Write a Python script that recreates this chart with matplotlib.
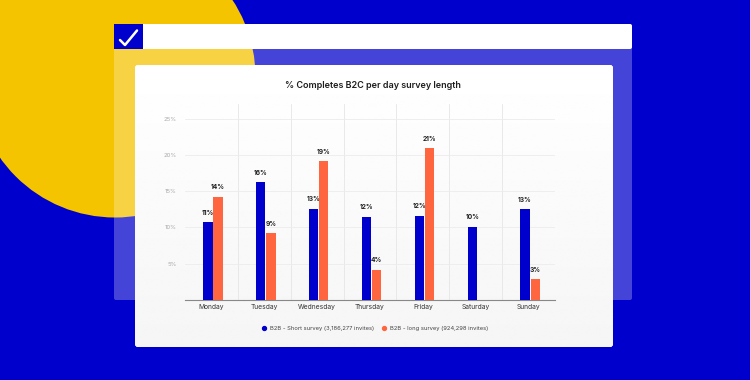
import matplotlib
matplotlib.use("Agg")
import matplotlib.pyplot as plt
import numpy as np
from matplotlib.patches import Circle, FancyBboxPatch, Rectangle
from matplotlib.lines import Line2D

days = ["Monday", "Tuesday", "Wednesday", "Thursday", "Friday", "Saturday", "Sunday"]
short_vals = [10.7, 16.2, 12.6, 11.5, 11.6, 10.1, 12.5]
long_vals = [14.2, 9.2, 19.1, 4.2, 20.9, 0.0, 2.85]
short_labels = ["11%", "16%", "13%", "12%", "12%", "10%", "13%"]
long_labels = ["14%", "9%", "19%", "4%", "21%", "", "3%"]
y_ticks = [5, 10, 15, 20, 25]
y_tick_labels = ["5%", "10%", "15%", "20%", "25%"]
title = "% Completes B2C per day survey length"
legend_short = "B2B - Short survey (3,186,277 invites)"
legend_long = "B2B - long survey (924,298 invites)"

BLUE = "#0000CC"
ORANGE = "#FF6640"
YELLOW = "#F5C400"

plt.rcParams['font.family'] = ['Inter', 'DejaVu Sans']

W, H = 750, 380
fig = plt.figure(figsize=(7.5, 3.8), dpi=100)
bg = fig.add_axes([0, 0, 1, 1])
bg.set_xlim(0, W)
bg.set_ylim(H, 0)
bg.axis("off")
bg.add_patch(Rectangle((0, 0), W, H, facecolor=BLUE, edgecolor="none", zorder=0))
bg.add_patch(Circle((115, 77), 140.5, facecolor=YELLOW, edgecolor="none", zorder=1))

# browser window
bg.add_patch(FancyBboxPatch((114, 24), 518, 276, boxstyle="round,pad=0,rounding_size=2",
                            facecolor="white", alpha=0.27, edgecolor="none", zorder=2))
bg.add_patch(FancyBboxPatch((114, 24), 518, 25, boxstyle="round,pad=0,rounding_size=2",
                            facecolor="white", edgecolor="none", zorder=3))
bg.add_patch(Rectangle((114, 24), 29, 25, facecolor=BLUE, edgecolor="none", zorder=4))
bg.add_line(Line2D([120, 125, 137], [40, 45, 30.5], color="white", lw=1.8,
                   solid_capstyle="round", solid_joinstyle="round", zorder=5))

# card
card = FancyBboxPatch((135, 65), 478, 282, boxstyle="round,pad=0,rounding_size=3",
                      facecolor="white", edgecolor="none", zorder=6)
bg.add_patch(card)
grad = np.linspace(1.0, 0.962, 256).reshape(-1, 1)
im = bg.imshow(grad, cmap="gray", vmin=0, vmax=1, extent=(135, 613, 347, 65),
               aspect="auto", zorder=7, interpolation="bilinear")
im.set_clip_path(card)
bg.set_xlim(0, W)
bg.set_ylim(H, 0)

bg.text(373, 86, title, ha="center", va="center", fontsize=6.5, fontweight="semibold",
        color="#1E1E1E", zorder=10)

# legend
bg.scatter([264], [328], s=8, color=BLUE, zorder=10)
bg.text(270, 328.3, legend_short, ha="left", va="center", fontsize=4.2, color="#444444", zorder=10)
bg.scatter([384], [328], s=8, color=ORANGE, zorder=10)
bg.text(390, 328.3, legend_long, ha="left", va="center", fontsize=4.2, color="#444444", zorder=10)

# chart
x0, x1, ytop, ybot = 185, 555, 104, 300
ax = fig.add_axes([x0 / W, (H - ybot) / H, (x1 - x0) / W, (ybot - ytop) / H])
ax.set_zorder(20)
ax.patch.set_alpha(0)
n = len(days)
x = np.arange(n)
bw = 0.176
gap = 0.015
ax.bar(x + 0.03 - bw / 2 - gap / 2, short_vals, width=bw, color=BLUE, zorder=3)
ax.bar(x + 0.03 + bw / 2 + gap / 2, long_vals, width=bw, color=ORANGE, zorder=3)
for i in range(n):
    ax.text(x[i] + 0.03 - bw / 2 - gap / 2, short_vals[i] + 0.9, short_labels[i],
            ha="center", va="bottom", fontsize=4.8, fontweight="bold", color="#222222")
    if long_labels[i]:
        ax.text(x[i] + 0.03 + bw / 2 + gap / 2, long_vals[i] + 0.9, long_labels[i],
                ha="center", va="bottom", fontsize=4.8, fontweight="bold", color="#222222")
ax.set_xlim(-0.5, n - 0.5)
ax.set_ylim(0, 27)
ax.set_yticks(y_ticks)
ax.set_yticklabels(y_tick_labels)
ax.set_xticks(x)
ax.set_xticklabels(days)
for xv in np.arange(0.5, n - 0.5, 1):
    ax.axvline(xv, color="#E6E6E6", lw=0.6, zorder=1)
for yv in y_ticks:
    ax.axhline(yv, color="#ECECEC", lw=0.6, zorder=1)
for s in ["top", "right", "left"]:
    ax.spines[s].set_visible(False)
ax.spines["bottom"].set_color("#888888")
ax.spines["bottom"].set_linewidth(0.8)
ax.tick_params(axis="y", length=0, labelsize=4.3, labelcolor="#AAAAAA", pad=6)
ax.tick_params(axis="x", length=0, labelsize=4.8, labelcolor="#333333", pad=3)

fig.savefig("out.png", dpi=100)
